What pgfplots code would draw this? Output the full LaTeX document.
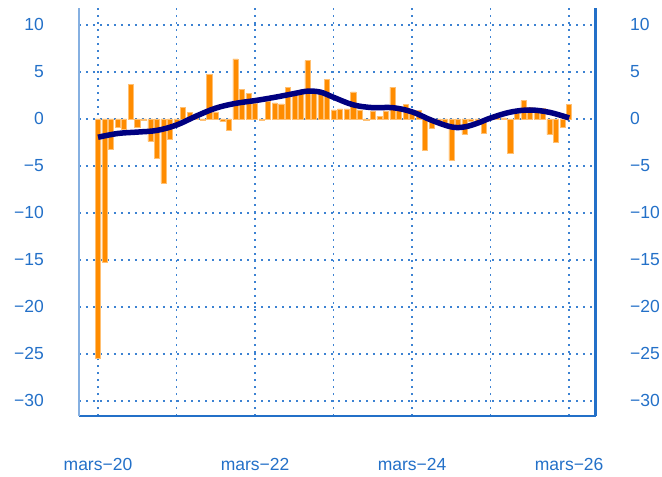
\documentclass[border=0pt]{standalone}
\usepackage{fontspec}
\setmainfont{Liberation Sans}
\usepackage{pgfplots}
\pgfplotsset{compat=1.18}
\definecolor{tickblue}{RGB}{35,112,200}
\definecolor{gridblue}{RGB}{60,130,210}
\definecolor{barorange}{RGB}{255,140,0}
\definecolor{linenavy}{RGB}{0,0,128}
\begin{document}
\begin{tikzpicture}
\path[use as bounding box] (-79bp,-61bp) rectangle (583bp,416bp);
\pgfplotsset{
  common/.style={
    at={(0,0)}, anchor=south west,
    scale only axis, width=517bp, height=408bp,
    xmin=-2.9, xmax=76.1, ymin=-31.6, ymax=11.8,
    ytick={-30,-25,-20,-15,-10,-5,0,5,10},
    yticklabels={−30,−25,−20,−15,−10,−5,0,5,10},
    major tick length=0pt,
    tick label style={font=\fontsize{17.5bp}{20bp}\selectfont, text=tickblue},
    axis line style={-},
  }
}
\begin{axis}[common,
  axis x line*=bottom, axis y line*=left,
  x axis line style={draw=tickblue, line width=2bp},
  y axis line style={draw=tickblue!55, line width=1.5bp},
  xtick={0,12,24,36,48,60,72},
  xticklabels={mars−20,,mars−22,,mars−24,,mars−26},
  xticklabel style={anchor=north, inner sep=0pt, yshift=-42bp},
  yticklabel style={anchor=east, inner sep=0pt, xshift=-35bp},
  grid=major,
  major grid style={draw=gridblue, line width=1.6bp, dash pattern=on 1.6bp off 5.4bp},
  ybar, bar width=0.78, bar shift=0pt,
]
\addplot[fill=barorange, draw=barorange!55!white, line width=0.5bp] coordinates {
(0,-25.5) (1,-15.2) (2,-3.2) (3,-0.9) (4,-1.1) (5,3.65) (6,-0.85) (7,-0.15) (8,-2.4) (9,-4.2) (10,-6.8) (11,-2.2)
(12,-0.45) (13,1.24) (14,0.67) (15,0.07) (16,-0.1) (17,4.7) (18,0.75) (19,-0.3) (20,-1.2) (21,6.4) (22,3.15) (23,2.7)
(24,1.67) (25,-0.15) (26,1.85) (27,1.7) (28,1.6) (29,3.33) (30,2.75) (31,2.8) (32,6.2) (33,2.9) (34,2.7) (35,4.2)
(36,0.96) (37,1.06) (38,1.06) (39,2.87) (40,0.95) (41,-0.15) (42,0.85) (43,0.28) (44,0.85) (45,3.37) (46,1.0) (47,1.56)
(48,0.8) (49,0.9) (50,-3.3) (51,-1.0) (52,-0.2) (53,-0.45) (54,-4.4) (55,-1.0) (56,-1.65) (57,-0.3) (58,-0.3) (59,-1.55)
(60,0.25) (61,0.2) (62,0.1) (63,-3.7) (64,0.6) (65,1.95) (66,1.24) (67,1.13) (68,1.13) (69,-1.67) (70,-2.5) (71,-0.85)
(72,1.56)
};
\end{axis}
\begin{axis}[common,
  axis x line=none, axis y line*=right,
  y axis line style={draw=tickblue, line width=3bp},
  yticklabel style={anchor=west, inner sep=0pt, xshift=34bp},
]
\addplot[linenavy, line width=5.5bp, smooth, tension=0.6, no marks] coordinates {
(0,-1.95) (3,-1.55) (6,-1.4) (9,-1.22) (12,-0.65) (15,0.3) (18,1.15) (21,1.65) (24,1.95) (27,2.3) (30,2.7) (32,2.95)
(34,2.85) (36,2.3) (39,1.5) (42,1.2) (45,1.2) (48,0.75) (51,-0.15) (54,-0.85) (56,-0.85) (58,-0.45) (60,0.1)
(63,0.72) (66,0.95) (69,0.7) (72,0.1)
};
\end{axis}
\end{tikzpicture}
\end{document}
